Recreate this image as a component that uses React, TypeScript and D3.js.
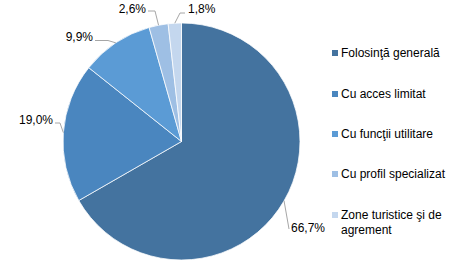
import React from "react";
import * as d3 from "d3";

const categories = [
  "Folosinţă generală",
  "Cu acces limitat",
  "Cu funcţii utilitare",
  "Cu profil specializat",
  "Zone turistice şi de agrement",
];
const values = [66.7, 19.0, 9.9, 2.6, 1.8];
const valueLabels = ["66,7%", "19,0%", "9,9%", "2,6%", "1,8%"];
const colors = ["#44739F", "#4A86BF", "#5B9BD5", "#9EBFE4", "#C4D7EE"];
const legendLines = [
  ["Folosinţă generală"],
  ["Cu acces limitat"],
  ["Cu funcţii utilitare"],
  ["Cu profil specializat"],
  ["Zone turistice şi de", "agrement"],
];

// label layout: elbow point, label end point, text anchor
const labelLayout = [
  { elbow: [289, 229], end: [289, 229], tx: 291, ty: 228, anchor: "start" },
  { elbow: [60, 123], end: [55, 123], tx: 53, ty: 120, anchor: "end" },
  { elbow: [108, 40.5], end: [95, 40.5], tx: 93, ty: 37, anchor: "end" },
  { elbow: [155, 11], end: [148, 11], tx: 146, ty: 9, anchor: "end" },
  { elbow: [180, 13], end: [185, 13], tx: 188, ty: 9, anchor: "start" },
];

export default function App() {
  const W = 469, H = 269;
  const cx = 181.5, cy = 141.5, r = 118.5;
  const pie = d3.pie<number>().sort(null).value((d) => d);
  const arcs = pie(values);
  const arc = d3.arc<d3.PieArcDatum<number>>().innerRadius(0).outerRadius(r);
  const font = "'Liberation Sans', Arial, sans-serif";
  const legendY = [53, 94, 134, 174, 215];
  return (
    <svg width={W} height={H} style={{ position: "absolute", left: 0, top: 0 }} fontFamily={font}>
      <rect width={W} height={H} fill="#fff" />
      <g transform={`translate(${cx},${cy})`}>
        {arcs.map((a, i) => (
          <path key={i} d={arc(a) || ""} fill={colors[i]} stroke="#fff" strokeWidth={0.75} />
        ))}
      </g>
      {arcs.map((a, i) => {
        const mid = (a.startAngle + a.endAngle) / 2;
        const sx = cx + r * Math.sin(mid);
        const sy = cy - r * Math.cos(mid);
        const L = labelLayout[i];
        return (
          <g key={i}>
            <polyline
              points={`${sx},${sy} ${L.elbow[0]},${L.elbow[1]} ${L.end[0]},${L.end[1]}`}
              fill="none"
              stroke="#A6A6A6"
              strokeWidth={1}
            />
            <text x={L.tx} y={L.ty} dy="0.35em" fontSize={12} fill="#000" textAnchor={L.anchor as any}>
              {valueLabels[i]}
            </text>
          </g>
        );
      })}
      {categories.map((c, i) => (
        <g key={c}>
          <rect x={332} y={legendY[i] - 3} width={6} height={6} fill={colors[i]} />
          {legendLines[i].map((t, j) => (
            <text key={j} x={341} y={legendY[i] + j * 15} dy="0.35em" fontSize={12} fill="#000">
              {t}
            </text>
          ))}
        </g>
      ))}
    </svg>
  );
}
